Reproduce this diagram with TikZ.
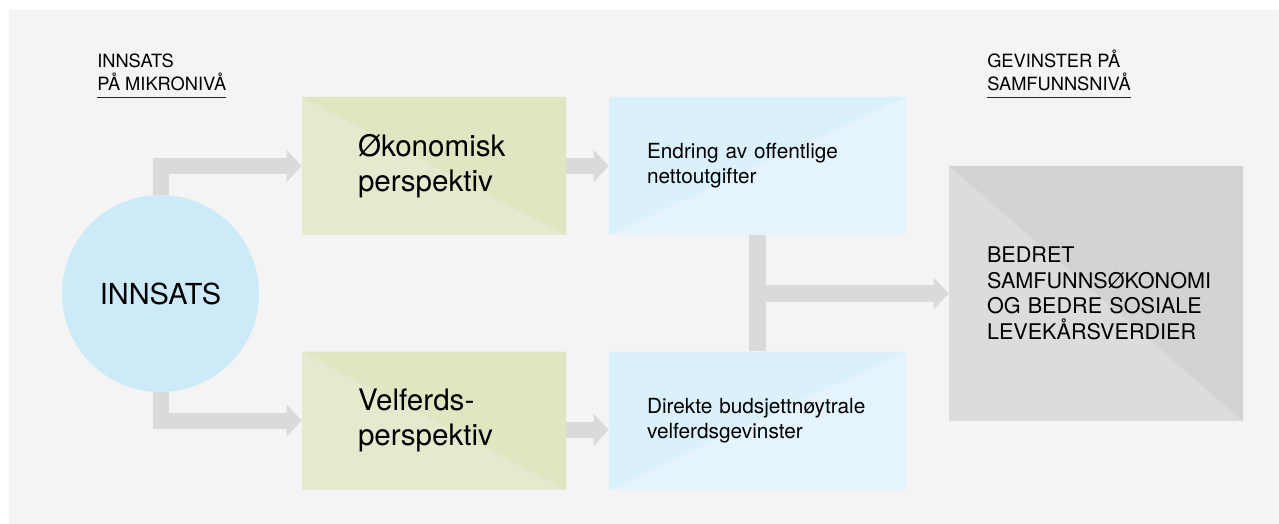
\documentclass[tikz,border=0pt]{standalone}
\usepackage{fontspec}
\setmainfont{TeX Gyre Heros}
\usetikzlibrary{arrows.meta}

\definecolor{panelgray}{HTML}{F4F4F4}
\definecolor{arrowgray}{HTML}{DADADA}
\definecolor{circleblue}{HTML}{CCEAF7}
\definecolor{greenlight}{HTML}{E5E9CE}
\definecolor{greendark}{HTML}{E0E6C1}
\definecolor{bluelight}{HTML}{E5F4FC}
\definecolor{bluedark}{HTML}{DAF0FB}
\definecolor{graylight}{HTML}{DCDCDC}
\definecolor{graydark}{HTML}{D2D3D3}

\begin{document}
\begin{tikzpicture}[x=0.75pt, y=-0.75pt,
  flow/.style={draw=arrowgray, line width=12pt, -{Triangle[length=11.25pt,width=23.25pt]}},
  bar/.style={draw=arrowgray, line width=12.75pt},
  heading/.style={anchor=south west, inner xsep=0pt, inner ysep=5pt, align=left,
    font=\fontsize{13.7}{17.2}\selectfont},
  perspbox/.style={rectangle, fill=greenlight, minimum width=198pt, minimum height=103.5pt,
    inner xsep=42pt, text width=114pt, align=left, font=\fontsize{22.2}{26.25}\selectfont,
    path picture={\fill[greendark] (path picture bounding box.north west) --
      (path picture bounding box.north east) -- (path picture bounding box.south east) -- cycle;}},
  effectbox/.style={rectangle, fill=bluelight, minimum width=222.75pt, minimum height=103.5pt,
    inner xsep=28.5pt, text width=165.75pt, align=left, font=\fontsize{15.6}{18.75}\selectfont,
    path picture={\fill[bluedark] (path picture bounding box.north west) --
      (path picture bounding box.north east) -- (path picture bounding box.south west) -- cycle;}},
  gainbox/.style={rectangle, fill=graylight, minimum width=220.5pt, minimum height=191.25pt,
    inner xsep=28.5pt, text width=163.5pt, align=left, font=\fontsize{16.2}{19.1}\selectfont,
    path picture={\fill[graydark] (path picture bounding box.north west) --
      (path picture bounding box.north east) -- (path picture bounding box.south east) -- cycle;}}
]
\useasboundingbox (0,0) rectangle (1279,524);
\fill[white] (0,0) rectangle (1279,524);
\fill[panelgray] (9,10) rectangle (1279,524);

\node[heading] (mikro) at (97,98) {INNSATS\\PÅ MIKRONIVÅ};
\node[heading] (samfunn) at (987,98) {GEVINSTER PÅ\\SAMFUNNSNIVÅ};
\draw[line width=0.75pt, black!85] (mikro.south west) -- (mikro.south east);
\draw[line width=0.75pt, black!85] (samfunn.south west) -- (samfunn.south east);

\node[circle, fill=circleblue, minimum size=147.75pt, inner sep=0pt,
  font=\fontsize{21.7}{25}\selectfont] (innsats) at (160.5,293.5) {INNSATS};

\node[perspbox] (okon) at (434,166) {Økonomisk\\perspektiv};
\node[perspbox] (velf) at (434,420.5) {Velferds-\\perspektiv};

\node[effectbox] (endr) at (757.5,166) {Endring av offentlige\\nettoutgifter};
\node[effectbox] (dir) at (757.5,420.5) {\mbox{Direkte budsjettnøytrale}\\velferdsgevinster};

\node[gainbox] (gevinst) at (1096,293.5) {BEDRET\\\mbox{SAMFUNNSØKONOMI}\\\mbox{OG BEDRE SOSIALE}\\\mbox{LEVEKÅRSVERDIER}};

\draw[flow] (innsats.north) |- (okon.west);
\draw[flow] (innsats.south) |- (velf.west);
\draw[flow] (okon.east) -- (endr.west);
\draw[flow] ([yshift=-7pt]velf.east) -- ([yshift=-7pt]dir.west);
\draw[bar] (endr.south) -- (dir.north);
\draw[flow] (endr.south |- gevinst.west) -- (gevinst.west);
\end{tikzpicture}
\end{document}
